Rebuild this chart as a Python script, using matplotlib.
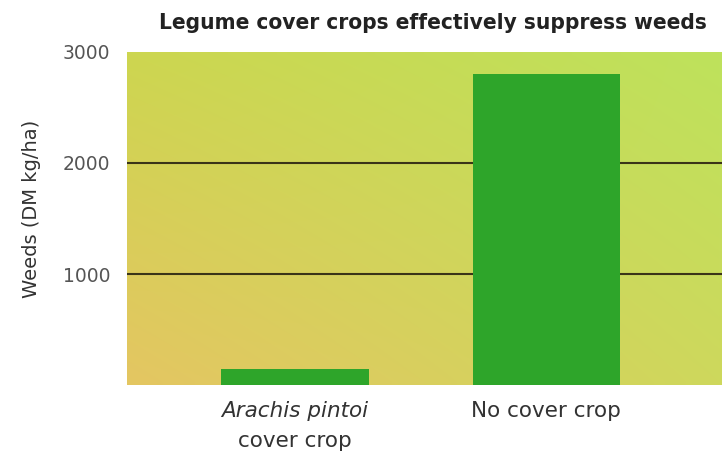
import numpy as np
import matplotlib.pyplot as plt

# Data
categories = ["Arachis pintoi", "No cover crop"]
weeds = [150, 2800]
yticks = [1000, 2000, 3000]

fig = plt.figure(figsize=(7.22, 4.63), dpi=100)
ax = fig.add_axes([0.176, 0.168, 0.824, 0.72])

# gradient background (corner colours)
tl = np.array([205, 214, 80]) / 255
bl = np.array([228, 198, 98]) / 255
tr = np.array([190, 226, 92]) / 255
br = np.array([206, 216, 92]) / 255
ny, nx = 50, 100
yy = np.linspace(0, 1, ny)[:, None, None]
xx = np.linspace(0, 1, nx)[None, :, None]
img = (1 - yy) * ((1 - xx) * tl + xx * tr) + yy * ((1 - xx) * bl + xx * br)
ax.imshow(img, extent=[0, 1, 0, 1], transform=ax.transAxes, aspect="auto",
          interpolation="bilinear", zorder=0)

x = np.arange(len(categories))
ax.bar(x, weeds, width=0.586, color="#2ea52a", zorder=3)
for v in yticks[:-1]:
    ax.axhline(v, color="#3a3418", lw=1.5, zorder=2)

ax.set_xlim(-0.669, 1.70)
ax.set_ylim(0, 3000)
ax.set_yticks(yticks)
ax.set_yticklabels([str(v) for v in yticks], fontsize=13.5, color="#555555")
ax.tick_params(axis="y", length=0, pad=12)
ax.set_xticks([])
for s in ax.spines.values():
    s.set_visible(False)

ax.set_ylabel("Weeds (DM kg/ha)", fontsize=14, color="#333333")
ax.yaxis.set_label_coords(-0.145, 0.53)

# category labels
ax.text(0, -0.077, "Arachis pintoi", transform=ax.get_xaxis_transform(),
        ha="center", va="center", fontsize=15.5, style="italic", color="#333333")
ax.text(0, -0.167, "cover crop", transform=ax.get_xaxis_transform(),
        ha="center", va="center", fontsize=15.5, color="#333333")
ax.text(1, -0.077, "No cover crop", transform=ax.get_xaxis_transform(),
        ha="center", va="center", fontsize=15.5, color="#333333")

fig.text(0.979, 0.951, "Legume cover crops effectively suppress weeds",
         ha="right", va="center", fontsize=16.2, fontweight="bold",
         fontstretch="condensed", color="#222222")

fig.savefig("out.png", dpi=100)
